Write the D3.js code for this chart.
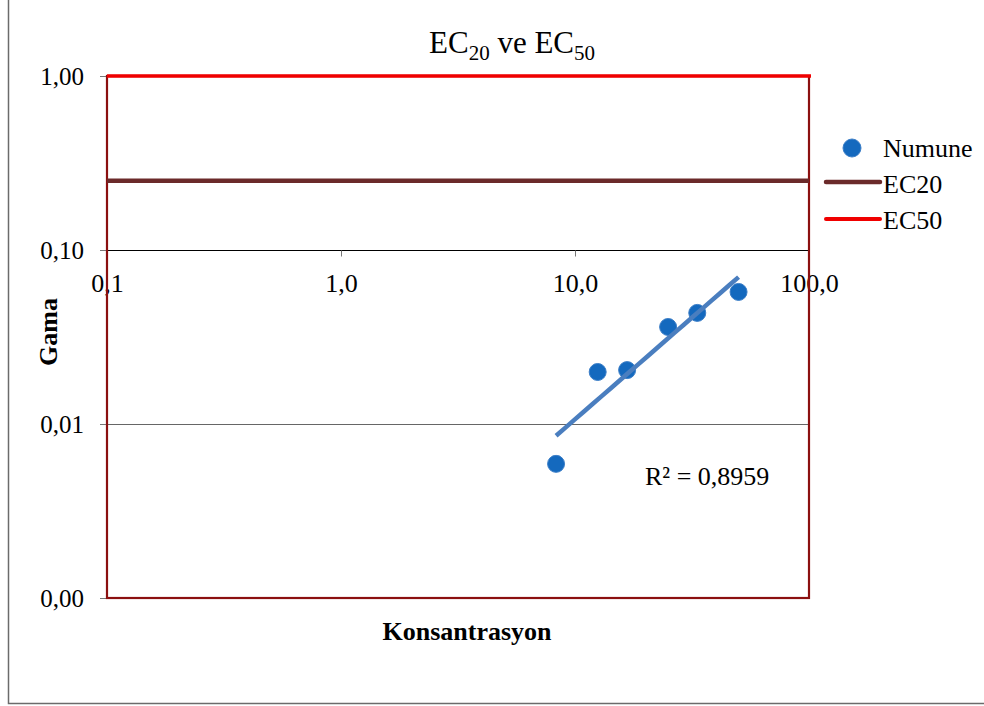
<!DOCTYPE html>
<html>
<head>
<meta charset="utf-8">
<script src="https://cdn.jsdelivr.net/npm/d3@7"></script>
<style>
  html, body { margin: 0; padding: 0; background: #fff; }
  svg { display: block; font-family: "Liberation Serif", "Times New Roman", serif; }
</style>
</head>
<body>
<svg id="chart" width="984" height="706"></svg>
<script>
// Sample concentrations (dilution series) and measured gamma values
const konsantrasyon = [8.3, 12.5, 16.7, 25, 33.3, 50];
const gama = [0.0059, 0.0199, 0.0204, 0.0361, 0.0435, 0.0574];

// Reference levels: gamma for 20 % and 50 % effect
const ec20 = 0.25;
const ec50 = 1.0;

const xTicks = [0.1, 1, 10, 100];
const xTickLabels = ["0,1", "1,0", "10,0", "100,0"];
const yTicks = [0.001, 0.01, 0.1, 1];
const yTickLabels = ["0,00", "0,01", "0,10", "1,00"];
const r2Label = "R² = 0,8959";

const legendItems = ["Numune", "EC20", "EC50"];

const FONT = "Liberation Serif, Times New Roman, serif";
const svg = d3.select("#chart");

const plot = { left: 107, right: 809, top: 76, bottom: 598 };

const x = d3.scaleLog().domain([0.1, 100]).range([plot.left, plot.right]);
const y = d3.scaleLog().domain([0.001, 1]).range([plot.bottom, plot.top]);

// Outer chart frame (left and bottom edges)
svg.append("path")
  .attr("d", `M8.5,0 V703.5 H984`)
  .attr("fill", "none")
  .attr("stroke", "#6b6b6b")
  .attr("stroke-width", 1.5);

// Horizontal gridline at 0,01
svg.append("g")
  .selectAll("line")
  .data([0.01])
  .join("line")
  .attr("x1", plot.left).attr("x2", plot.right)
  .attr("y1", d => Math.round(y(d)) + 0.5).attr("y2", d => Math.round(y(d)) + 0.5)
  .attr("stroke", "#666").attr("stroke-width", 1);

// Horizontal axis crosses at 0,10
const xAxisY = Math.round(y(0.1)) + 0.5;
svg.append("line")
  .attr("x1", plot.left).attr("x2", plot.right)
  .attr("y1", xAxisY).attr("y2", xAxisY)
  .attr("stroke", "#000").attr("stroke-width", 1);

const xAxis = d3.axisBottom(x)
  .tickValues(xTicks)
  .tickFormat((d, i) => xTickLabels[i])
  .tickSize(6)
  .tickPadding(17);
const gx = svg.append("g")
  .attr("transform", `translate(0,${xAxisY})`)
  .call(xAxis);
gx.select(".domain").remove();
gx.selectAll(".tick line").attr("stroke", "#777");
gx.selectAll(".tick text")
  .attr("font-family", FONT)
  .attr("font-size", 26)
  .attr("fill", "#000");

// Vertical axis ticks and labels
const yAxis = d3.axisLeft(y)
  .tickValues(yTicks)
  .tickFormat((d, i) => yTickLabels[i])
  .tickSize(7)
  .tickPadding(16);
const gy = svg.append("g")
  .attr("transform", `translate(${plot.left},0)`)
  .call(yAxis);
gy.select(".domain").remove();
gy.selectAll(".tick line").attr("stroke", "#777");
gy.selectAll(".tick text")
  .attr("font-family", FONT)
  .attr("font-size", 25)
  .attr("fill", "#000");

// Plot-area border
svg.append("rect")
  .attr("x", plot.left).attr("y", plot.top)
  .attr("width", plot.right - plot.left).attr("height", plot.bottom - plot.top)
  .attr("fill", "none")
  .attr("stroke", "#8b1010")
  .attr("stroke-width", 2.2);

// Reference lines
svg.append("line")
  .attr("x1", plot.left).attr("x2", plot.right)
  .attr("y1", y(ec20)).attr("y2", y(ec20))
  .attr("stroke", "#6b2a2a").attr("stroke-width", 4.5);
svg.append("line")
  .attr("x1", plot.left).attr("x2", plot.right + 2)
  .attr("y1", y(ec50)).attr("y2", y(ec50))
  .attr("stroke", "#f00000").attr("stroke-width", 3.5);

// Power trendline fitted in log-log space
const lx = konsantrasyon.map(Math.log10);
const ly = gama.map(Math.log10);
const mx = d3.mean(lx), my = d3.mean(ly);
const sxy = d3.sum(lx, (v, i) => (v - mx) * (ly[i] - my));
const sxx = d3.sum(lx, v => (v - mx) * (v - mx));
const slope = sxy / sxx;
const intercept = my - slope * mx;
const fit = xv => Math.pow(10, intercept + slope * Math.log10(xv));
const xExtent = d3.extent(konsantrasyon);
const fitPts = d3.range(0, 21).map(i => {
  const lv = Math.log10(xExtent[0]) + (Math.log10(xExtent[1]) - Math.log10(xExtent[0])) * i / 20;
  const xv = Math.pow(10, lv);
  return [xv, fit(xv)];
});

// Sample points
svg.append("g")
  .selectAll("circle")
  .data(konsantrasyon.map((k, i) => [k, gama[i]]))
  .join("circle")
  .attr("cx", d => x(d[0]))
  .attr("cy", d => y(d[1]))
  .attr("r", 8.5)
  .attr("fill", "#1469be")
  .attr("stroke", "#3d7fc8")
  .attr("stroke-width", 1);

svg.append("path")
  .datum(fitPts)
  .attr("d", d3.line().x(d => x(d[0])).y(d => y(d[1])))
  .attr("fill", "none")
  .attr("stroke", "#4a7ebf")
  .attr("stroke-width", 4.5)
  .attr("stroke-linecap", "butt");

svg.append("text")
  .attr("x", 645).attr("y", 485)
  .attr("font-size", 26)
  .attr("fill", "#000")
  .text(r2Label);

// Title with subscripts
const title = svg.append("text")
  .attr("x", 512).attr("y", 53)
  .attr("text-anchor", "middle")
  .attr("font-size", 31)
  .attr("fill", "#000");
title.append("tspan").text("EC");
title.append("tspan").attr("font-size", 21).attr("dy", 7).text("20");
title.append("tspan").attr("dy", -7).text(" ve EC");
title.append("tspan").attr("font-size", 21).attr("dy", 7).text("50");

// Axis titles
svg.append("text")
  .attr("transform", `translate(57,332) rotate(-90)`)
  .attr("text-anchor", "middle")
  .attr("font-size", 26)
  .attr("font-weight", "bold")
  .attr("fill", "#000")
  .text("Gama");

svg.append("text")
  .attr("x", 467).attr("y", 640)
  .attr("text-anchor", "middle")
  .attr("font-size", 26)
  .attr("font-weight", "bold")
  .attr("fill", "#000")
  .text("Konsantrasyon");

// Legend
const legend = svg.append("g");
const legendY = [148, 182, 219];
const legendBase = [157, 193, 229];
legend.append("circle")
  .attr("cx", 852).attr("cy", legendY[0]).attr("r", 9)
  .attr("fill", "#1469be").attr("stroke", "#3d7fc8");
legend.append("line")
  .attr("x1", 826).attr("x2", 880).attr("y1", legendY[1]).attr("y2", legendY[1])
  .attr("stroke", "#6b2a2a").attr("stroke-width", 4.5).attr("stroke-linecap", "round");
legend.append("line")
  .attr("x1", 826).attr("x2", 880).attr("y1", legendY[2]).attr("y2", legendY[2])
  .attr("stroke", "#f00000").attr("stroke-width", 4).attr("stroke-linecap", "round");
legend.selectAll("text")
  .data(legendItems)
  .join("text")
  .attr("x", 883)
  .attr("y", (d, i) => legendBase[i])
  .attr("font-size", 26)
  .attr("fill", "#000")
  .text(d => d);
</script>
</body>
</html>
